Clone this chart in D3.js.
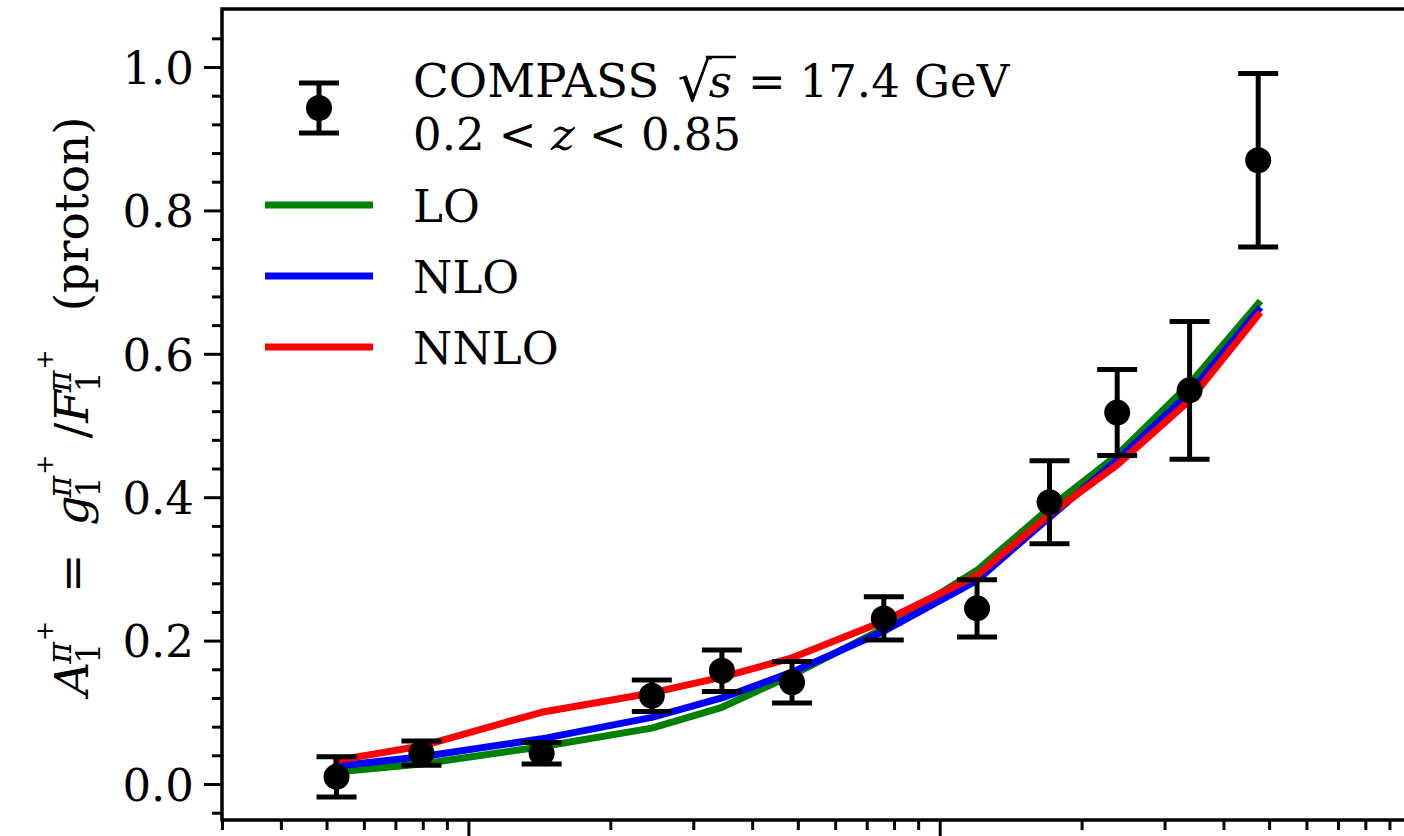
<!DOCTYPE html>
<html>
<head>
<meta charset="utf-8">
<script src="https://cdn.jsdelivr.net/npm/d3@7"></script>
<style>
  body { margin: 0; background: #fff; }
  svg { display: block; }
  text { font-family: "DejaVu Serif", "Liberation Serif", serif; fill: #000; white-space: pre; }
</style>
</head>
<body>
<svg width="1404" height="836"></svg>
<script>
(function(d3) {
  'use strict';

  // x (Bjorken x) of the COMPASS bins
  const xValues = [0.00525, 0.00795, 0.0143, 0.0245, 0.0345, 0.0486,
    0.0761, 0.120, 0.171, 0.238, 0.339, 0.474];
  // measured asymmetry and its error
  const a1Values = [0.010, 0.043, 0.043, 0.123, 0.158, 0.142,
    0.231, 0.245, 0.393, 0.518, 0.549, 0.870];
  const a1Errors = [0.028, 0.017, 0.015, 0.022, 0.029, 0.029,
    0.030, 0.040, 0.058, 0.060, 0.096, 0.121];
  // theory curves
  const loValues = [0.017, 0.028, 0.052, 0.078, 0.107, 0.152,
    0.217, 0.298, 0.385, 0.459, 0.558, 0.670];
  const nloValues = [0.025, 0.038, 0.063, 0.093, 0.120, 0.156,
    0.213, 0.284, 0.372, 0.452, 0.545, 0.661];
  const nnloValues = [0.033, 0.053, 0.100, 0.127, 0.149, 0.176,
    0.227, 0.291, 0.376, 0.445, 0.535, 0.654];

  const yTickValues = [0.0, 0.2, 0.4, 0.6, 0.8, 1.0];
  const xTickValues = [0.01, 0.1, 1];
  const xTickLabels = ['10⁻²', '10⁻¹', '10⁰'];

  const series = [
    {key: 'LO', values: loValues, color: '#008000'},
    {key: 'NLO', values: nloValues, color: '#0000ff'},
    {key: 'NNLO', values: nnloValues, color: '#ff0000'},
  ];

  const svg = d3.select('svg');
  const plot = {left: 222, right: 1411, top: 9, bottom: 820};

  const xScale = d3.scaleLog().domain([0.003, 1]).range([plot.left, plot.right]);
  const yScale = d3.scaleLinear().domain([-0.0502, 1.0809]).range([plot.bottom, plot.top]);

  const F = 45; // main font size

  // minor ticks
  const yMinor = d3.range(-1, 27).map((i) => i * 0.04)
      .filter((v) => Math.abs(v / 0.2 - Math.round(v / 0.2)) > 1e-6);
  const xMinor = [];
  [0.001, 0.01, 0.1].forEach(function(dec) {
    d3.range(2, 10).forEach(function(m) {
      const v = m * dec;
      if (v >= 0.003 && v <= 1) xMinor.push(v);
    });
  });

  function styleAxis(g) {
    g.select('.domain').remove();
    g.selectAll('.tick line').attr('stroke', '#000').attr('stroke-width', 3);
    g.selectAll('.tick text').style('font-size', F + 'px')
        .style('font-family', '"DejaVu Serif", serif').attr('fill', '#000');
  }

  svg.append('g').attr('transform', `translate(${plot.left},0)`)
      .call(d3.axisLeft(yScale).tickValues(yMinor).tickSize(10).tickFormat(''))
      .call(styleAxis);
  const yMajorG = svg.append('g').attr('transform', `translate(${plot.left},0)`)
      .call(d3.axisLeft(yScale).tickValues(yTickValues).tickSize(18)
          .tickPadding(10).tickFormat(d3.format('.1f')))
      .call(styleAxis);
  yMajorG.selectAll('.tick text').attr('dy', '0.36em');

  svg.append('g').attr('transform', `translate(0,${plot.bottom})`)
      .call(d3.axisBottom(xScale).tickValues(xMinor).tickSize(10).tickFormat(''))
      .call(styleAxis);
  svg.append('g').attr('transform', `translate(0,${plot.bottom})`)
      .call(d3.axisBottom(xScale).tickValues(xTickValues).tickSize(18)
          .tickPadding(10).tickFormat((d, i) => xTickLabels[i]))
      .call(styleAxis);

  // spines
  svg.append('rect')
      .attr('x', plot.left).attr('y', plot.top)
      .attr('width', plot.right - plot.left).attr('height', plot.bottom - plot.top)
      .attr('fill', 'none').attr('stroke', '#000').attr('stroke-width', 3.5);

  // theory curves
  const line = d3.line()
      .x((d, i) => xScale(xValues[i]))
      .y((d) => yScale(d));

  svg.append('g').selectAll('path').data(series).enter().append('path')
      .attr('d', (d) => line(d.values))
      .attr('fill', 'none')
      .attr('stroke', (d) => d.color)
      .attr('stroke-width', 7)
      .attr('stroke-linejoin', 'round')
      .attr('stroke-linecap', 'square');

  // data points with error bars
  const points = xValues.map((x, i) => ({x: x, y: a1Values[i], e: a1Errors[i]}));
  const cap = 20;
  const pts = svg.append('g').selectAll('g').data(points).enter().append('g')
      .attr('transform', (d) => `translate(${xScale(d.x)},0)`);
  pts.append('line')
      .attr('y1', (d) => yScale(d.y - d.e)).attr('y2', (d) => yScale(d.y + d.e))
      .attr('stroke', '#000').attr('stroke-width', 5);
  pts.append('line')
      .attr('x1', -cap).attr('x2', cap)
      .attr('y1', (d) => yScale(d.y + d.e)).attr('y2', (d) => yScale(d.y + d.e))
      .attr('stroke', '#000').attr('stroke-width', 5);
  pts.append('line')
      .attr('x1', -cap).attr('x2', cap)
      .attr('y1', (d) => yScale(d.y - d.e)).attr('y2', (d) => yScale(d.y - d.e))
      .attr('stroke', '#000').attr('stroke-width', 5);
  pts.append('circle')
      .attr('cy', (d) => yScale(d.y)).attr('r', 13).attr('fill', '#000');

  // text helper
  function piece(g, str, x, y, size, italic) {
    const t = g.append('text').attr('x', x).attr('y', y)
        .style('font-size', size + 'px')
        .style('font-style', italic ? 'italic' : 'normal')
        .text(str);
    return t.node().getComputedTextLength();
  }

  // legend
  const legend = svg.append('g');
  const lx = 413;
  const eb = legend.append('g').attr('transform', 'translate(319,108)');
  eb.append('line').attr('y1', -25).attr('y2', 25)
      .attr('stroke', '#000').attr('stroke-width', 5);
  eb.append('line').attr('x1', -cap).attr('x2', cap).attr('y1', -25).attr('y2', -25)
      .attr('stroke', '#000').attr('stroke-width', 5);
  eb.append('line').attr('x1', -cap).attr('x2', cap).attr('y1', 25).attr('y2', 25)
      .attr('stroke', '#000').attr('stroke-width', 5);
  eb.append('circle').attr('r', 13).attr('fill', '#000');

  let cx = lx;
  cx += piece(legend, 'COMPASS', cx, 97, F * 1.04, false) + 18;
  const wRad = piece(legend, '√', cx, 101, F * 1.2, false);
  const sx = cx + wRad - 3;
  const wS = piece(legend, 's', sx, 97, F, true);
  legend.append('line')
      .attr('x1', sx - 3).attr('x2', sx + wS + 4)
      .attr('y1', 57).attr('y2', 57)
      .attr('stroke', '#000').attr('stroke-width', 2.5);
  cx = sx + wS + 16;
  cx += piece(legend, '=', cx, 97, F, false) + 14;
  piece(legend, '17.4 GeV', cx, 97, F, false);

  cx = lx;
  cx += piece(legend, '0.2 < ', cx, 150, F, false);
  cx += piece(legend, 'z', cx, 150, F, true);
  piece(legend, ' < 0.85', cx, 150, F, false);

  const legendRows = [205, 276, 347];
  series.forEach(function(s, i) {
    legend.append('line')
        .attr('x1', 265).attr('x2', 373)
        .attr('y1', legendRows[i]).attr('y2', legendRows[i])
        .attr('stroke', s.color).attr('stroke-width', 7);
    piece(legend, s.key, lx, legendRows[i] + 17, F, false);
  });

  // y-axis label, built from pieces
  const labelG = svg.append('g').attr('transform', 'translate(88,408) rotate(-90)');
  const inner = labelG.append('g');
  const LF = 47;
  const S = 33;
  const SS = 24;
  let tx = 0;
  function withScripts(base) {
    tx += piece(inner, base, tx, 0, LF, true) - 2;
    const wSup = piece(inner, 'π', tx, -17, S, true);
    const wPlus = piece(inner, '+', tx + wSup + 1, -35, SS, false);
    const wSub = piece(inner, '1', tx, 12, S, false);
    tx += Math.max(wSup + wPlus + 1, wSub);
  }
  withScripts('A');
  tx += 28;
  tx += piece(inner, '=', tx, 0, LF, false);
  tx += 28;
  withScripts('g');
  tx += 16;
  tx += piece(inner, '/', tx, 0, LF, false);
  withScripts('F');
  tx += 38;
  piece(inner, '(proton)', tx, 0, LF, false);
  const bb = inner.node().getBBox();
  inner.attr('transform', `translate(${-bb.x - bb.width / 2},0)`);
}(d3));
</script>
</body>
</html>
